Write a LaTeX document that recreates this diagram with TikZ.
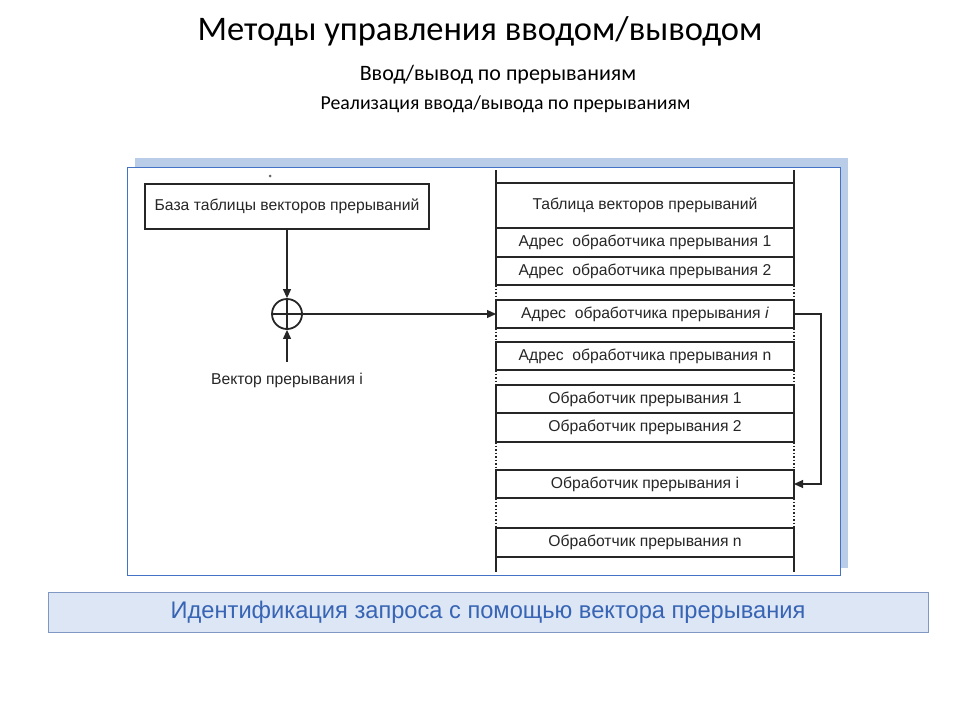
\documentclass[tikz,border=0pt]{standalone}
\usepackage{fontspec}
\setmainfont{Carlito}
\newfontfamily\arialf{Liberation Sans}
\usetikzlibrary{arrows.meta}
\definecolor{shadowblue}{HTML}{B9CCE8}
\definecolor{panelblue}{HTML}{4472C4}
\definecolor{barfill}{HTML}{DDE6F4}
\definecolor{barline}{HTML}{7F98C4}
\definecolor{bartext}{HTML}{3764B4}
\definecolor{ink}{HTML}{262626}
\tikzset{
  scanline/.style={draw=ink, line width=1.8pt},
  tabfont/.style={font=\arialf\fontsize{15.7}{17}\selectfont, text=ink},
  row/.style={scanline, rectangle, minimum width=298pt, inner sep=0pt, outer sep=0pt, anchor=north, tabfont},
  gapline/.style={draw=ink, line width=1.8pt, dash pattern=on 1.5pt off 2pt},
  tip/.style={-{Triangle[length=9pt,width=8pt]}},
  link/.style={draw=ink, line width=1.1pt, tip},
}
\begin{document}
\begin{tikzpicture}[x=1pt,y=-1pt]
\useasboundingbox (0,0) rectangle (960,720);
% titles
\node (title) at (480,31) {\fontsize{34.5}{38}\selectfont Методы управления вводом/выводом};
\node (sub1) at (498,75) {\fontsize{22}{24}\selectfont Ввод/вывод по прерываниям};
\node (sub2) at (505.5,104) {\fontsize{19.8}{22}\selectfont Реализация ввода/вывода по прерываниям};
% panel
\fill[shadowblue] (135,158) rectangle (848,568);
\filldraw[fill=white, draw=panelblue, line width=1pt] (127,167) rectangle (840,575);
\fill[ink!70] (270,176) circle (1.5pt);
% left box
\node[scanline, rectangle, minimum width=284pt, minimum height=45pt, inner sep=0pt, outer sep=0pt, tabfont]
      (base) at (287,206.5) {База таблицы векторов прерываний};
\node[scanline, circle, minimum size=30pt, inner sep=0pt] (sum) at (287,314) {};
\draw[scanline] (sum.north) -- (sum.south) (sum.west) -- (sum.east);
\coordinate (vin) at (287,362);
\node[tabfont] (vlabel) at (287,380) {Вектор прерывания i};
% table rows
\node[row, minimum height=45pt] (r0) at (645,183) {Таблица векторов прерываний};
\node[row, minimum height=29pt] (r1) at (645,228) {Адрес\ \ обработчика прерывания 1};
\node[row, minimum height=28pt] (r2) at (645,257) {Адрес\ \ обработчика прерывания 2};
\node[row, minimum height=28pt] (r3) at (645,300) {Адрес\ \ обработчика прерывания \textit{i}};
\node[row, minimum height=28pt] (r4) at (645,342) {Адрес\ \ обработчика прерывания n};
\node[row, minimum height=28pt] (r5) at (645,385) {Обработчик прерывания 1};
\node[row, minimum height=29pt] (r6) at (645,413) {Обработчик прерывания 2};
\node[row, minimum height=28pt] (r7) at (645,470) {Обработчик прерывания i};
\node[row, minimum height=29pt] (r8) at (645,528) {Обработчик прерывания n};
% table sides: top and bottom extensions
\coordinate (tl) at (496,170); \coordinate (tr) at (794,170);
\coordinate (bl) at (496,572); \coordinate (br) at (794,572);
\draw[scanline] (tl) -- (r0.north west) (tr) -- (r0.north east);
\draw[scanline] (r8.south west) -- (bl) (r8.south east) -- (br);
% gaps
\draw[gapline] (r2.south west) -- (r3.north west) (r2.south east) -- (r3.north east);
\draw[gapline] (r3.south west) -- (r4.north west) (r3.south east) -- (r4.north east);
\draw[gapline] (r4.south west) -- (r5.north west) (r4.south east) -- (r5.north east);
\draw[gapline] (r6.south west) -- (r7.north west) (r6.south east) -- (r7.north east);
\draw[gapline] (r7.south west) -- (r8.north west) (r7.south east) -- (r8.north east);
% connectors
\draw[link] (base.south) -- (sum.north);
\draw[link] (vin) -- (sum.south);
\draw[link] (sum.east) -- (r3.west);
\coordinate (rt) at (821,314);
\coordinate (rb) at (821,484);
\draw[link] (r3.east) -- (rt) -- (rb) -- (r7.east);
% bottom bar
\node[draw=barline, fill=barfill, line width=1pt, minimum width=880pt, minimum height=40pt,
      inner sep=0pt] (bar) at (488,612)
      {\color{bartext}\scalebox{0.985}[1]{\arialf\fontsize{24}{27}\selectfont Идентификация запроса с помощью вектора прерывания}};
\end{tikzpicture}
\end{document}
